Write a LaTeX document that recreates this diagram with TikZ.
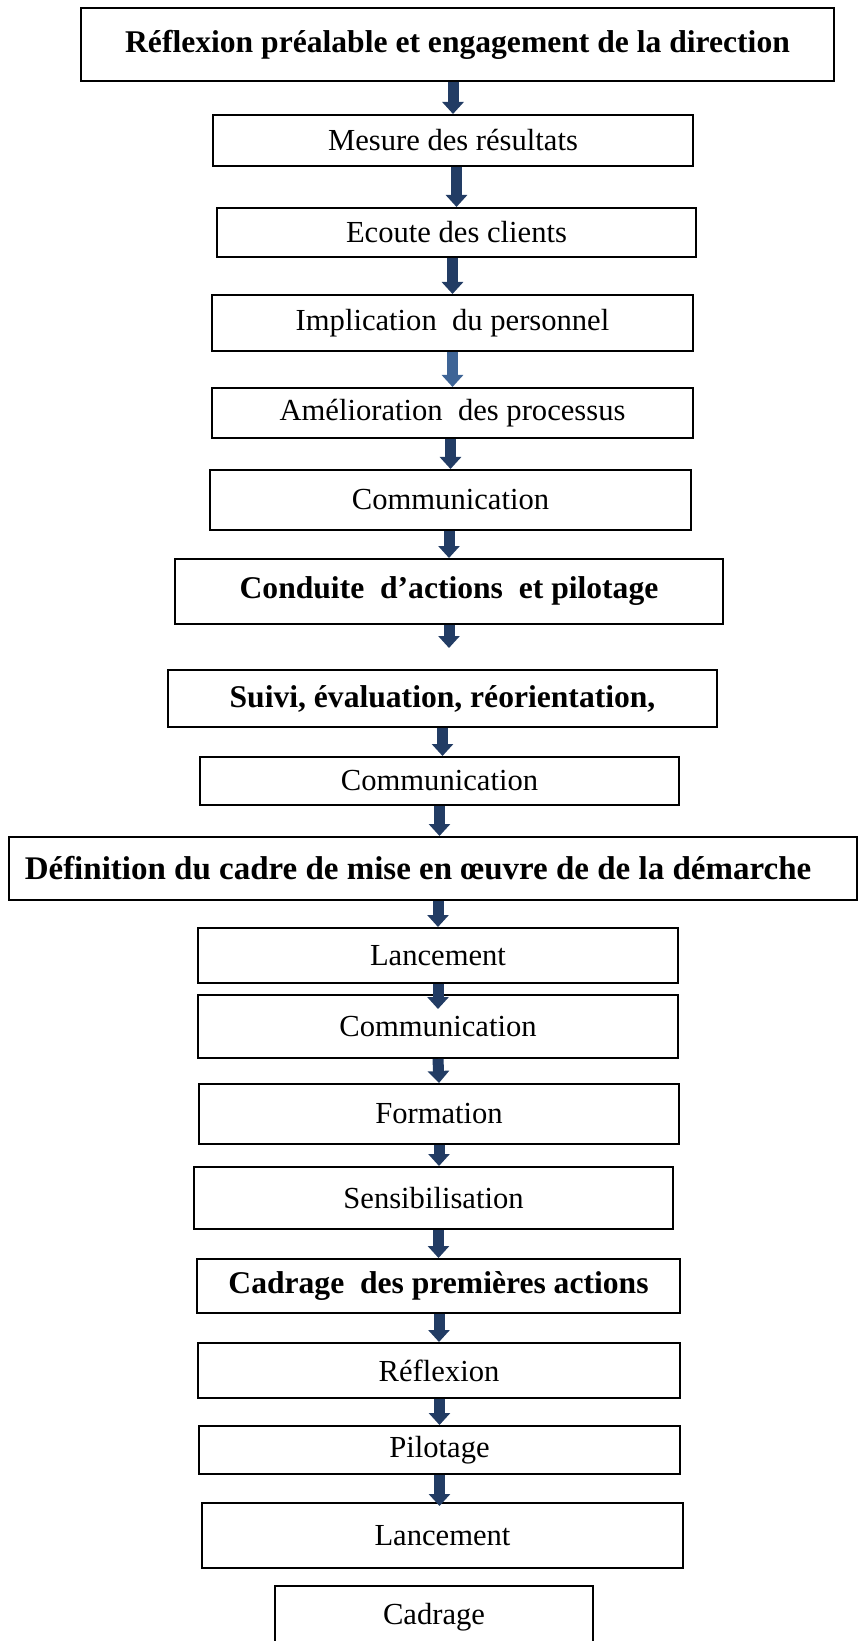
\documentclass[tikz,border=0pt]{standalone}
\usepackage{fontspec}
\setmainfont{Liberation Serif}
\usepackage{tikz}
\usetikzlibrary{arrows.meta,positioning}
\definecolor{arrowblue}{RGB}{34,60,100}
\definecolor{lightarrow}{RGB}{62,100,150}
\tikzset{
  box/.style={rectangle,draw=black,line width=1pt,fill=white,minimum width=#1,
    minimum height=26pt,inner sep=2pt,align=center,font=\fontsize{15.3}{18}\selectfont},
  box/.default=240pt,
  bbox/.style={box=#1,font=\fontsize{15.8}{18}\selectfont\bfseries},
  bbox/.default=240pt,
  barr/.style={-{Triangle[width=10.5pt,length=6pt]},line width=5.5pt,draw=arrowblue}
}
\begin{document}
\begin{tikzpicture}[x=0.5pt,y=-0.5pt]
    \useasboundingbox (0,0) rectangle (858,1641);
    % Reflexion prealable
    \node[bbox=376.5pt,minimum height=36.5pt] (reflex) at (457.5,44.5) {Réflexion préalable et engagement de la direction};
    \node[box,minimum height=25.5pt] (mesure) at (453,140.5) {Mesure des résultats};
    \node[box=239.5pt,minimum height=24.5pt] (ecoute) at (456.5,232.5) {Ecoute des clients};
    \node[box=240.5pt,minimum height=28pt] (implic) at (452.5,323) {Implication~ du personnel};
    \node[box=240.5pt,minimum height=25pt] (amelio) at (452.5,413) {Amélioration~ des processus};
    \node[box=240.5pt,minimum height=30pt] (comm1) at (450.5,500) {Communication};

    \draw[barr] (reflex.south -| mesure.north) -- (mesure.north);
    \draw[barr] (mesure.south -| ecoute.north) -- (ecoute.north);
    \draw[barr] (ecoute.south -| implic.north) -- (implic.north);
    \draw[barr,draw=lightarrow] (implic.south) -- (amelio.north);
    \draw[barr] (amelio.south -| comm1.north) -- (comm1.north);

    % Conduite d'actions
    \node[bbox=274pt,minimum height=32.5pt] (conduite) at (449,591.5) {Conduite~ d'actions~ et pilotage};
    \node[bbox=274.5pt,minimum height=28.5pt] (suivi) at (442.5,698.5) {Suivi, évaluation, réorientation,};
    \node[box=239.5pt,minimum height=24pt] (comm2) at (439.5,781) {Communication};

    \draw[barr] (comm1.south -| conduite.north) -- (conduite.north);
    \draw[barr,shorten >=10.5pt] (conduite.south) -- (conduite.south |- suivi.north);
    \draw[barr] (suivi.south) -- (suivi.south |- comm2.north);

    % Definition du cadre
    \node[bbox=424pt,minimum height=31.5pt,font=\fontsize{16.5}{18}\selectfont\bfseries] (cadre) at (433,868.5) {Définition du cadre de mise en œuvre de de la démarche\hspace*{15pt}};
    \node[box,minimum height=27.5pt] (lance1) at (438,955.5) {Lancement};
    \node[box,minimum height=31.5pt] (comm3) at (438,1026.5) {Communication};
    \node[box,minimum height=30pt] (forma) at (439,1114) {Formation};
    \node[box=239.5pt,minimum height=31pt] (sensi) at (433.5,1198) {Sensibilisation};

    \draw[barr] (comm2.south) -- (comm2.south |- cadre.north);
    \draw[barr] (cadre.south -| lance1.north) -- (lance1.north);
    \draw[barr,shorten >=-7.5pt] (lance1.south) -- (comm3.north);
    \draw[barr] (comm3.south) -- (forma.north);
    \draw[barr] (forma.south) -- (forma.south |- sensi.north);

    % Cadrage des premieres actions
    \node[bbox=241.5pt,minimum height=27pt] (premier) at (438.5,1286) {Cadrage~ des premières actions};
    \node[box=241pt,minimum height=27.5pt] (reflexion) at (439,1370.5) {Réflexion};
    \node[box=240.5pt,minimum height=24pt] (pilot) at (439.5,1450) {Pilotage};
    \node[box=240.5pt,minimum height=32.5pt] (lance2) at (442.5,1535.5) {Lancement};
    \node[box=159pt,minimum height=31pt] (cadrage) at (434,1617) {Cadrage};

    \draw[barr] (sensi.south -| premier.north) -- (premier.north);
    \draw[barr] (premier.south -| reflexion.north) -- (reflexion.north);
    \draw[barr] (reflexion.south -| pilot.north) -- (pilot.north);
    \draw[barr,shorten >=-2pt] (pilot.south) -- (pilot.south |- lance2.north);
\end{tikzpicture}
\end{document}
